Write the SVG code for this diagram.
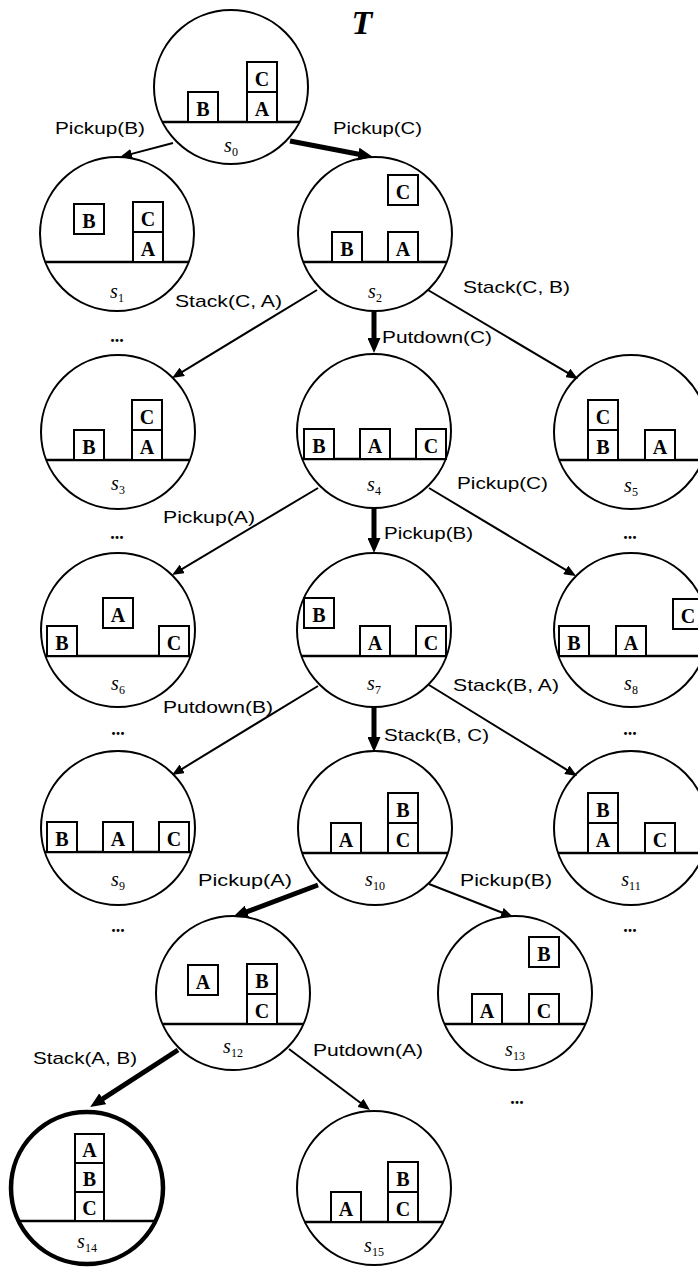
<svg xmlns="http://www.w3.org/2000/svg" width="698" height="1267" viewBox="0 0 698 1267">
<style>
.c{fill:none;stroke:#000;stroke-width:2}
.ct{fill:none;stroke:#000;stroke-width:4.5}
.g{stroke:#000;stroke-width:2.6}
.b{fill:#fff;stroke:#000;stroke-width:2}
.bl{font-family:"Liberation Serif",serif;font-weight:bold;font-size:20px;text-anchor:middle}
.lb{font-family:"Liberation Sans",sans-serif;font-size:17px}
.s{font-family:"Liberation Serif",serif;font-style:italic;font-size:20px;text-anchor:middle}
.sub{font-size:12px;font-style:normal}
.e{stroke:#000;stroke-width:2;fill:none}
.et{stroke:#000;stroke-width:5;fill:none}
.el{font-family:"Liberation Serif",serif;font-weight:bold;font-size:18px;text-anchor:middle}
.tt{font-family:"Liberation Serif",serif;font-weight:bold;font-style:italic;font-size:34px;text-anchor:middle}
</style>
<defs>
<marker id="ah" markerUnits="userSpaceOnUse" markerWidth="12" markerHeight="10" refX="2" refY="5" orient="auto"><path d="M0,0 L12,5 L0,10 z" fill="#000"/></marker>
<marker id="aht" markerUnits="userSpaceOnUse" markerWidth="15" markerHeight="13" refX="2" refY="6.5" orient="auto"><path d="M0,0 L15,6.5 L0,13 z" fill="#000"/></marker>
</defs>
<rect width="698" height="1267" fill="#fff"/>
<text class="tt" x="362" y="34">T</text>

<g id="connectors">
<line class="e" x1="173" y1="143" x2="129.7" y2="154.4" marker-end="url(#ah)"/>
<line class="et" x1="290" y1="141" x2="360.2" y2="154.5" marker-end="url(#aht)"/>
<line class="e" x1="317" y1="290" x2="180.6" y2="372.8" marker-end="url(#ah)"/>
<line class="et" x1="374" y1="311" x2="374" y2="340" marker-end="url(#aht)"/>
<line class="e" x1="428" y1="290" x2="569.4" y2="373.9" marker-end="url(#ah)"/>
<line class="e" x1="318" y1="488" x2="180.6" y2="569.9" marker-end="url(#ah)"/>
<line class="et" x1="374" y1="508" x2="374" y2="540" marker-end="url(#aht)"/>
<line class="e" x1="429" y1="488" x2="567.4" y2="570.9" marker-end="url(#ah)"/>
<line class="e" x1="318" y1="686" x2="180.5" y2="769.8" marker-end="url(#ah)"/>
<line class="et" x1="374" y1="706" x2="374" y2="739" marker-end="url(#aht)"/>
<line class="e" x1="429" y1="685" x2="568.5" y2="770.8" marker-end="url(#ah)"/>
<line class="et" x1="318" y1="885" x2="245.2" y2="912.4" marker-end="url(#aht)"/>
<line class="e" x1="429" y1="884" x2="503.7" y2="913.3" marker-end="url(#ah)"/>
<line class="et" x1="178" y1="1050" x2="101.1" y2="1099.9" marker-end="url(#aht)"/>
<line class="e" x1="289" y1="1049" x2="362" y2="1104" marker-end="url(#ah)"/>
</g>

<g id="labels">
<text class="lb" x="55" y="134" textLength="90" lengthAdjust="spacingAndGlyphs">Pickup(B)</text>
<text class="lb" x="333" y="134" textLength="89" lengthAdjust="spacingAndGlyphs">Pickup(C)</text>
<text class="lb" x="175" y="307" textLength="107" lengthAdjust="spacingAndGlyphs">Stack(C, A)</text>
<text class="lb" x="382" y="343" textLength="110" lengthAdjust="spacingAndGlyphs">Putdown(C)</text>
<text class="lb" x="463" y="293" textLength="107" lengthAdjust="spacingAndGlyphs">Stack(C, B)</text>
<text class="lb" x="163" y="523" textLength="92" lengthAdjust="spacingAndGlyphs">Pickup(A)</text>
<text class="lb" x="457" y="489" textLength="91" lengthAdjust="spacingAndGlyphs">Pickup(C)</text>
<text class="lb" x="384" y="539" textLength="89" lengthAdjust="spacingAndGlyphs">Pickup(B)</text>
<text class="lb" x="163" y="713" textLength="110" lengthAdjust="spacingAndGlyphs">Putdown(B)</text>
<text class="lb" x="453" y="691" textLength="106" lengthAdjust="spacingAndGlyphs">Stack(B, A)</text>
<text class="lb" x="384" y="741" textLength="105" lengthAdjust="spacingAndGlyphs">Stack(B, C)</text>
<text class="lb" x="198" y="886" textLength="94" lengthAdjust="spacingAndGlyphs">Pickup(A)</text>
<text class="lb" x="460" y="886" textLength="92" lengthAdjust="spacingAndGlyphs">Pickup(B)</text>
<text class="lb" x="33" y="1064" textLength="104" lengthAdjust="spacingAndGlyphs">Stack(A, B)</text>
<text class="lb" x="313" y="1056" textLength="110" lengthAdjust="spacingAndGlyphs">Putdown(A)</text>
</g>

<g id="ellipses">
<text class="el" x="117" y="342">...</text>
<text class="el" x="117" y="539">...</text>
<text class="el" x="630" y="539">...</text>
<text class="el" x="118" y="735">...</text>
<text class="el" x="630" y="735">...</text>
<text class="el" x="118" y="932">...</text>
<text class="el" x="630" y="932">...</text>
<text class="el" x="517" y="1104">...</text>
</g>

<g id="s0">
<circle class="c" cx="231" cy="87" r="77"/>
<line class="g" x1="162.4" y1="122" x2="299.6" y2="122"/>
<rect class="b" x="188" y="92" width="30" height="30"/><text class="bl" x="203" y="116">B</text>
<rect class="b" x="247" y="92" width="30" height="30"/><text class="bl" x="262" y="116">A</text>
<rect class="b" x="247" y="62" width="30" height="30"/><text class="bl" x="262" y="86">C</text>
<text class="s" x="231" y="152">s<tspan class="sub" dy="4">0</tspan></text>
</g>

<g id="s1">
<circle class="c" cx="117" cy="234" r="77"/>
<line class="g" x1="45.3" y1="262" x2="188.7" y2="262"/>
<rect class="b" x="74" y="204" width="30" height="30"/><text class="bl" x="89" y="228">B</text>
<rect class="b" x="133" y="232" width="30" height="30"/><text class="bl" x="148" y="256">A</text>
<rect class="b" x="133" y="202" width="30" height="30"/><text class="bl" x="148" y="226">C</text>
<text class="s" x="117" y="298">s<tspan class="sub" dy="4">1</tspan></text>
</g>

<g id="s2">
<circle class="c" cx="375" cy="234" r="77"/>
<line class="g" x1="303.3" y1="262" x2="446.7" y2="262"/>
<rect class="b" x="388" y="175" width="30" height="30"/><text class="bl" x="403" y="199">C</text>
<rect class="b" x="332" y="232" width="30" height="30"/><text class="bl" x="347" y="256">B</text>
<rect class="b" x="388" y="232" width="30" height="30"/><text class="bl" x="403" y="256">A</text>
<text class="s" x="375" y="298">s<tspan class="sub" dy="4">2</tspan></text>
</g>

<g id="s3">
<circle class="c" cx="118" cy="432" r="77"/>
<line class="g" x1="46.3" y1="460" x2="189.7" y2="460"/>
<rect class="b" x="74" y="430" width="30" height="30"/><text class="bl" x="89" y="454">B</text>
<rect class="b" x="132" y="430" width="30" height="30"/><text class="bl" x="147" y="454">A</text>
<rect class="b" x="132" y="400" width="30" height="30"/><text class="bl" x="147" y="424">C</text>
<text class="s" x="118" y="490">s<tspan class="sub" dy="4">3</tspan></text>
</g>

<g id="s4">
<circle class="c" cx="374" cy="431" r="77"/>
<line class="g" x1="302.3" y1="459" x2="445.7" y2="459"/>
<rect class="b" x="304" y="429" width="30" height="30"/><text class="bl" x="319" y="453">B</text>
<rect class="b" x="360" y="429" width="30" height="30"/><text class="bl" x="375" y="453">A</text>
<rect class="b" x="416" y="429" width="30" height="30"/><text class="bl" x="431" y="453">C</text>
<text class="s" x="374" y="491">s<tspan class="sub" dy="4">4</tspan></text>
</g>

<g id="s5">
<circle class="c" cx="631" cy="432" r="77"/>
<line class="g" x1="559.3" y1="460" x2="702.7" y2="460"/>
<rect class="b" x="588" y="430" width="30" height="30"/><text class="bl" x="603" y="454">B</text>
<rect class="b" x="588" y="400" width="30" height="30"/><text class="bl" x="603" y="424">C</text>
<rect class="b" x="645" y="430" width="30" height="30"/><text class="bl" x="660" y="454">A</text>
<text class="s" x="631" y="492">s<tspan class="sub" dy="4">5</tspan></text>
</g>

<g id="s6">
<circle class="c" cx="118" cy="630" r="77"/>
<line class="g" x1="45.5" y1="656" x2="190.5" y2="656"/>
<rect class="b" x="47" y="626" width="30" height="30"/><text class="bl" x="62" y="650">B</text>
<rect class="b" x="103" y="598" width="30" height="30"/><text class="bl" x="118" y="622">A</text>
<rect class="b" x="159" y="626" width="30" height="30"/><text class="bl" x="174" y="650">C</text>
<text class="s" x="118" y="690">s<tspan class="sub" dy="4">6</tspan></text>
</g>

<g id="s7">
<circle class="c" cx="374" cy="630" r="77"/>
<line class="g" x1="301.5" y1="656" x2="446.5" y2="656"/>
<rect class="b" x="304" y="598" width="30" height="30"/><text class="bl" x="319" y="622">B</text>
<rect class="b" x="360" y="626" width="30" height="30"/><text class="bl" x="375" y="650">A</text>
<rect class="b" x="416" y="626" width="30" height="30"/><text class="bl" x="431" y="650">C</text>
<text class="s" x="374" y="690">s<tspan class="sub" dy="4">7</tspan></text>
</g>

<g id="s8">
<circle class="c" cx="631" cy="630" r="77"/>
<line class="g" x1="558.5" y1="656" x2="703.5" y2="656"/>
<rect class="b" x="559" y="626" width="30" height="30"/><text class="bl" x="574" y="650">B</text>
<rect class="b" x="616" y="626" width="30" height="30"/><text class="bl" x="631" y="650">A</text>
<rect class="b" x="673" y="599" width="30" height="30"/><text class="bl" x="688" y="623">C</text>
<text class="s" x="631" y="690">s<tspan class="sub" dy="4">8</tspan></text>
</g>

<g id="s9">
<circle class="c" cx="118" cy="828" r="77"/>
<line class="g" x1="44.8" y1="852" x2="191.2" y2="852"/>
<rect class="b" x="47" y="822" width="30" height="30"/><text class="bl" x="62" y="846">B</text>
<rect class="b" x="103" y="822" width="30" height="30"/><text class="bl" x="118" y="846">A</text>
<rect class="b" x="159" y="822" width="30" height="30"/><text class="bl" x="174" y="846">C</text>
<text class="s" x="118" y="886">s<tspan class="sub" dy="4">9</tspan></text>
</g>

<g id="s10">
<circle class="c" cx="375" cy="828" r="77"/>
<line class="g" x1="301.8" y1="853" x2="448.2" y2="853"/>
<rect class="b" x="331" y="823" width="30" height="30"/><text class="bl" x="346" y="847">A</text>
<rect class="b" x="388" y="823" width="30" height="30"/><text class="bl" x="403" y="847">C</text>
<rect class="b" x="388" y="793" width="30" height="30"/><text class="bl" x="403" y="817">B</text>
<text class="s" x="375" y="886">s<tspan class="sub" dy="4">10</tspan></text>
</g>

<g id="s11">
<circle class="c" cx="631" cy="828" r="77"/>
<line class="g" x1="557.8" y1="853" x2="704.2" y2="853"/>
<rect class="b" x="588" y="823" width="30" height="30"/><text class="bl" x="603" y="847">A</text>
<rect class="b" x="588" y="793" width="30" height="30"/><text class="bl" x="603" y="817">B</text>
<rect class="b" x="645" y="823" width="30" height="30"/><text class="bl" x="660" y="847">C</text>
<text class="s" x="631" y="886">s<tspan class="sub" dy="4">11</tspan></text>
</g>

<g id="s12">
<circle class="c" cx="233" cy="993" r="77"/>
<line class="g" x1="162.5" y1="1024" x2="303.5" y2="1024"/>
<rect class="b" x="188" y="965" width="30" height="30"/><text class="bl" x="203" y="989">A</text>
<rect class="b" x="247" y="994" width="30" height="30"/><text class="bl" x="262" y="1018">C</text>
<rect class="b" x="247" y="964" width="30" height="30"/><text class="bl" x="262" y="988">B</text>
<text class="s" x="233" y="1053">s<tspan class="sub" dy="4">12</tspan></text>
</g>

<g id="s13">
<circle class="c" cx="515" cy="993" r="77"/>
<line class="g" x1="444.5" y1="1024" x2="585.5" y2="1024"/>
<rect class="b" x="472" y="994" width="30" height="30"/><text class="bl" x="487" y="1018">A</text>
<rect class="b" x="529" y="994" width="30" height="30"/><text class="bl" x="544" y="1018">C</text>
<rect class="b" x="529" y="937" width="30" height="30"/><text class="bl" x="544" y="961">B</text>
<text class="s" x="515" y="1056">s<tspan class="sub" dy="4">13</tspan></text>
</g>

<g id="s14">
<circle class="ct" cx="87" cy="1188" r="76"/>
<line class="g" x1="17.4" y1="1221" x2="156.6" y2="1221"/>
<rect class="b" x="75" y="1192" width="29" height="29"/><text class="bl" x="89.5" y="1215">C</text>
<rect class="b" x="75" y="1163" width="29" height="29"/><text class="bl" x="89.5" y="1186">B</text>
<rect class="b" x="75" y="1134" width="29" height="29"/><text class="bl" x="89.5" y="1157">A</text>
<text class="s" x="87" y="1248">s<tspan class="sub" dy="4">14</tspan></text>
</g>

<g id="s15">
<circle class="c" cx="374" cy="1188" r="77"/>
<line class="g" x1="304.4" y1="1222" x2="443.6" y2="1222"/>
<rect class="b" x="331" y="1192" width="30" height="30"/><text class="bl" x="346" y="1216">A</text>
<rect class="b" x="388" y="1192" width="30" height="30"/><text class="bl" x="403" y="1216">C</text>
<rect class="b" x="388" y="1162" width="30" height="30"/><text class="bl" x="403" y="1186">B</text>
<text class="s" x="374" y="1252">s<tspan class="sub" dy="4">15</tspan></text>
</g>
</svg>
